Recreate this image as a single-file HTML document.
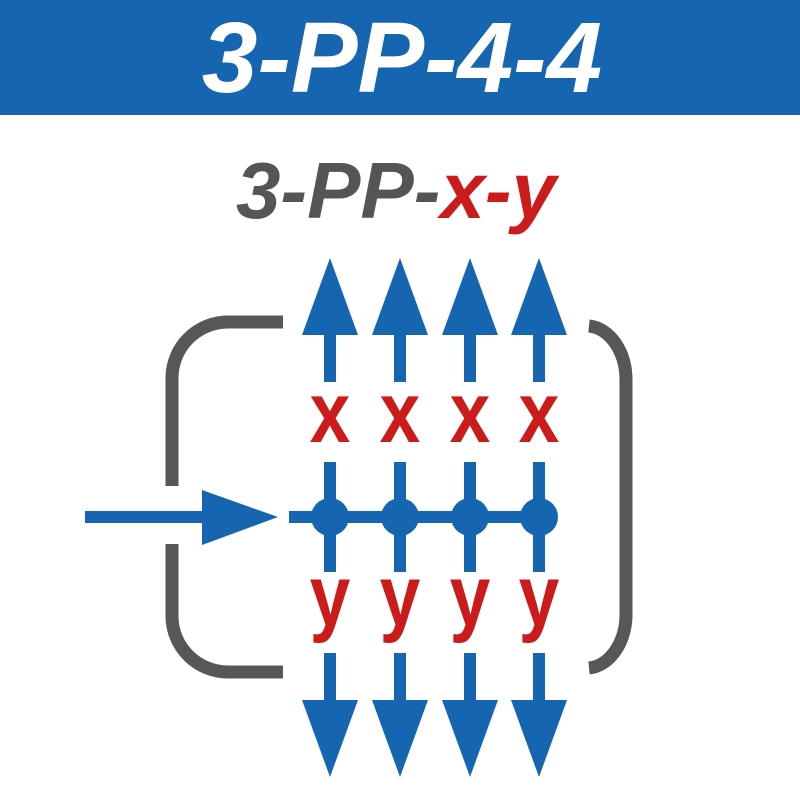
<!DOCTYPE html>
<html><head><meta charset="utf-8"><style>
html,body{margin:0;padding:0;background:#fff;}
svg{display:block;}
</style></head><body>
<svg width="800" height="800" viewBox="0 0 800 800" xmlns="http://www.w3.org/2000/svg">
<rect x="0" y="0" width="800" height="115" fill="#1565b0"/>
<text x="402" y="92" text-anchor="middle" font-family="Liberation Sans, sans-serif" font-weight="bold" font-style="italic" font-size="100" fill="#fff">3-PP-4-4</text>
<text x="396" y="218" text-anchor="middle" font-family="Liberation Sans, sans-serif" font-weight="bold" font-style="italic" font-size="80" fill="#555"><tspan>3-PP-</tspan><tspan fill="#cc1b1b">x-y</tspan></text>
<g fill="none" stroke="#575757" stroke-width="13">
<path d="M283,322 H228 A56,56 0 0 0 172,378 V486"/>
<path d="M172,544 V616 A56,56 0 0 0 228,672 H283"/>
<path d="M589,326 A40,54 0 0 1 626,380 V612 A40,54 0 0 1 589,668"/>
</g>
<g fill="#1565b0" stroke="none">
<rect x="85" y="511" width="125" height="12"/>
<polygon points="202,490 278,517 202,545"/>
<rect x="289" y="511" width="266" height="12"/>
</g>
<g fill="#1565b0">
<g transform="translate(330,0)">
<polygon points="-28,335 0,258 28,335"/><rect x="-6" y="330" width="12" height="52"/>
<rect x="-6" y="462" width="12" height="110"/><circle cx="0" cy="517" r="19"/>
<rect x="-6" y="653" width="12" height="52"/><polygon points="-28,700 0,777 28,700"/>
</g>
<g transform="translate(400,0)">
<polygon points="-28,335 0,258 28,335"/><rect x="-6" y="330" width="12" height="52"/>
<rect x="-6" y="462" width="12" height="110"/><circle cx="0" cy="517" r="19"/>
<rect x="-6" y="653" width="12" height="52"/><polygon points="-28,700 0,777 28,700"/>
</g>
<g transform="translate(470,0)">
<polygon points="-28,335 0,258 28,335"/><rect x="-6" y="330" width="12" height="52"/>
<rect x="-6" y="462" width="12" height="110"/><circle cx="0" cy="517" r="19"/>
<rect x="-6" y="653" width="12" height="52"/><polygon points="-28,700 0,777 28,700"/>
</g>
<g transform="translate(539,0)">
<polygon points="-28,335 0,258 28,335"/><rect x="-6" y="330" width="12" height="52"/>
<rect x="-6" y="462" width="12" height="110"/><circle cx="0" cy="517" r="19"/>
<rect x="-6" y="653" width="12" height="52"/><polygon points="-28,700 0,777 28,700"/>
</g>
</g>
<g font-family="Liberation Sans, sans-serif" font-weight="bold" font-size="86" fill="#cc1b1b" text-anchor="middle">
<text transform="translate(330,442) scale(0.85,1)">x</text><text transform="translate(400,442) scale(0.85,1)">x</text><text transform="translate(470,442) scale(0.85,1)">x</text><text transform="translate(539,442) scale(0.85,1)">x</text>
<text transform="translate(330,625) scale(0.85,1)">y</text><text transform="translate(400,625) scale(0.85,1)">y</text><text transform="translate(470,625) scale(0.85,1)">y</text><text transform="translate(539,625) scale(0.85,1)">y</text>
</g>
</svg>
</body></html>
